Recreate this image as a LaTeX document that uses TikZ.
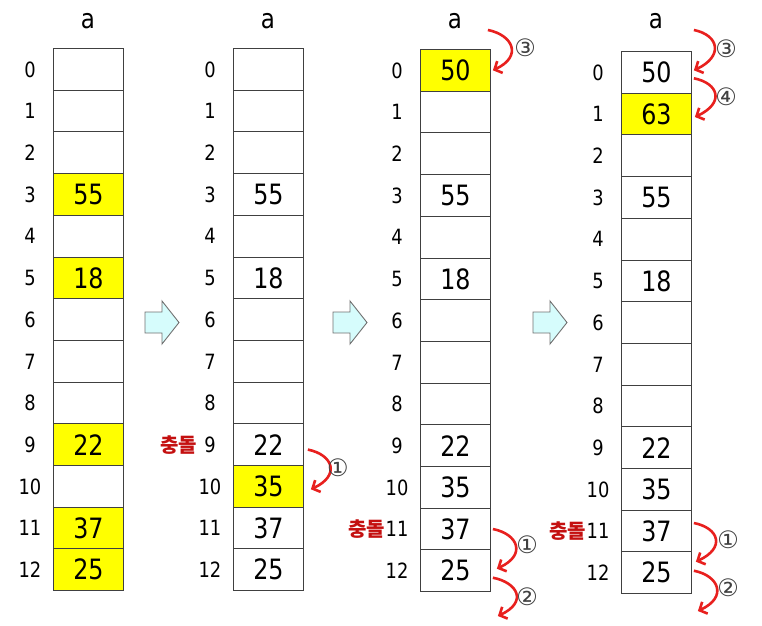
\documentclass[tikz,border=0pt]{standalone}
\usepackage{fontspec}
\setmainfont{DejaVu Sans}[FakeStretch=0.85]
\newfontfamily\krfont{Noto Sans CJK KR}
\newfontfamily\circfont{DejaVu Sans}
\usetikzlibrary{arrows.meta,calc}
\definecolor{cellline}{HTML}{404040}
\definecolor{hl}{HTML}{FFFF00}
\definecolor{arrred}{HTML}{E8201E}
\definecolor{korred}{HTML}{C41010}
\definecolor{circgray}{HTML}{404040}
\definecolor{blockfill}{HTML}{D6FCFC}
\definecolor{blockline}{HTML}{707070}
\begin{document}
\begin{tikzpicture}[x=1pt,y=-1pt,
  cell/.style={draw=cellline,line width=0.9pt,minimum width=70pt,minimum height=41.7pt,anchor=north west,inner sep=0pt,font=\fontsize{28}{28}\selectfont},
  idx/.style={inner sep=0pt,font=\fontsize{21}{21}\selectfont},
  alab/.style={inner sep=0pt,anchor=base,font=\fontsize{27}{27}\selectfont},
  kor/.style={inner sep=0pt,anchor=east,text=korred,font=\krfont\bfseries\fontsize{20}{20}\selectfont},
  circ/.style={inner sep=0pt,text=circgray,font=\circfont\fontsize{24}{24}\selectfont},
  redcurve/.style={draw=arrred,line width=2.6pt,-{Straight Barb[length=6pt,width=13pt]}},
  blockarr/.style={draw=blockline,fill=blockfill,line width=0.9pt,line join=miter}]
\useasboundingbox (0,0) rectangle (762,625);
% columns
\foreach \c/\L/\T/\I in {1/53/48/30,2/233/48/210,3/420/49/397,4/621/51/598}{
  \node[alab] (a\c) at (\L+35,28) {a};
  \foreach \r in {0,...,12}{
    \node[cell] (c\c-\r) at (\L,\T+\r*41.7) {};
    \node[idx] (i\c-\r) at (\I,\T+\r*41.7+21.5) {\r};
  }
}
% values
\foreach \c/\r/\v/\f in {1/3/55/hl,1/5/18/hl,1/9/22/hl,1/11/37/hl,1/12/25/hl,
  2/3/55/white,2/5/18/white,2/9/22/white,2/10/35/hl,2/11/37/white,2/12/25/white,
  3/0/50/hl,3/3/55/white,3/5/18/white,3/9/22/white,3/10/35/white,3/11/37/white,3/12/25/white,
  4/0/50/white,4/1/63/hl,4/3/55/white,4/5/18/white,4/9/22/white,4/10/35/white,4/11/37/white,4/12/25/white}{
  \node[cell,fill=\f] (v\c-\r) at (c\c-\r.north west) {\v};
}
% collision labels
\node[kor] (k2) at ([xshift=-7pt]i2-9.west) {충돌};
\node[kor] (k3) at ([xshift=0pt]i3-11.west) {충돌};
\node[kor] (k4) at ([xshift=0pt]i4-11.west) {충돌};
% block arrows
\foreach \x in {145,333,533}{
  \draw[blockarr] (\x,312) -- (\x+17,312) -- (\x+17,301) -- (\x+34,322.5) -- (\x+17,344) -- (\x+17,333) -- (\x,333) -- cycle;
}
% red curved arrows and circled numbers
\draw[redcurve] ($(c2-9.east)+(4,5)$) .. controls +(25,5) and +(30,-14) .. ($(c2-10.east)+(7,3)$);
\node[circ] (n21) at (338,468) {①};
\draw[redcurve] ($(c3-0.north east)+(-3,-19)$) .. controls +(25,5) and +(30,-14) .. ($(c3-0.east)+(2,0)$);
\node[circ] (n33) at (525,48) {③};
\draw[redcurve] ($(c3-11.east)+(2,0)$) .. controls +(25,5) and +(30,-14) .. ($(c3-12.east)+(6,-2)$);
\node[circ] (n31) at (527,545) {①};
\draw[redcurve] ($(c3-12.east)+(2,7)$) .. controls +(25,5) and +(30,-14) .. ($(c3-12.south east)+(7,24)$);
\node[circ] (n32) at (527,597) {②};
\draw[redcurve] ($(c4-0.north east)+(2,-21)$) .. controls +(25,5) and +(30,-14) .. ($(c4-0.east)+(2,-2)$);
\node[circ] (n43) at (726,49) {③};
\draw[redcurve] ($(c4-0.east)+(2,6)$) .. controls +(25,5) and +(30,-14) .. ($(c4-1.east)+(3,3)$);
\node[circ] (n44) at (726,97) {④};
\draw[redcurve] ($(c4-11.east)+(2,-8)$) .. controls +(25,5) and +(30,-14) .. ($(c4-12.east)+(4,-11)$);
\node[circ] (n41) at (728,540) {①};
\draw[redcurve] ($(c4-12.east)+(2,-2)$) .. controls +(25,5) and +(30,-14) .. ($(c4-12.south east)+(6,17)$);
\node[circ] (n42) at (728,588) {②};
\end{tikzpicture}
\end{document}
